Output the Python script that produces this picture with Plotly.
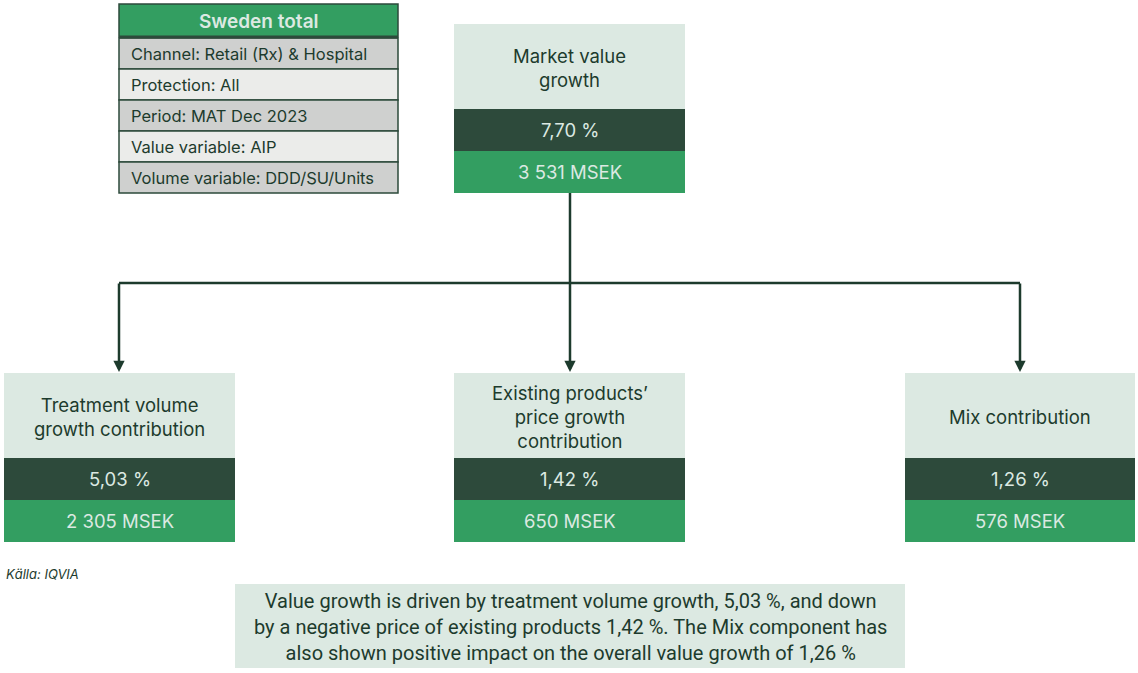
import plotly.graph_objects as go

# data
info_title = "Sweden total"
info_rows = ["Channel: Retail (Rx) & Hospital", "Protection: All", "Period: MAT Dec 2023",
             "Value variable: AIP", "Volume variable: DDD/SU/Units"]
box_titles = ["Market value<br>growth", "Treatment volume<br>growth contribution",
              "Existing products’<br>price growth<br>contribution", "Mix contribution"]
box_pct = ["7,70 %", "5,03 %", "1,42 %", "1,26 %"]
box_msek = ["3 531 MSEK", "2 305 MSEK", "650 MSEK", "576 MSEK"]
source = "Källa: IQVIA"
summary = ("Value growth is driven by treatment volume growth, 5,03 %, and down<br>"
           "by a negative price of existing products 1,42 %. The Mix component has<br>"
           "also shown positive impact on the overall value growth of 1,26 %")

GREEN = "#339e61"
DARK = "#2d4a3b"
LIGHT = "#dce9e2"
INK = "#1d3b2d"
FONT = "Inter, Noto Sans, sans-serif"

W, H = 1138, 673
fig = go.Figure()
shapes = []
ann = []

def rect(x0, y0, x1, y1, fill, line=None, lw=0):
    shapes.append(dict(type="rect", x0=x0, y0=y0, x1=x1, y1=y1, fillcolor=fill,
                       line=dict(color=line or fill, width=lw), layer="below"))

def text(x, y, s, size, color, anchor="center", weight="normal", italic=False, family=FONT):
    ann.append(dict(x=x, y=y, text=s, showarrow=False, xanchor=anchor, yanchor="middle",
                    align=anchor if anchor != "center" else "center",
                    font=dict(family=family, size=size, color=color, weight=weight,
                              style="italic" if italic else "normal")))

# info table
tx0, tx1 = 119, 398
rect(tx0, 4, tx1, 37, GREEN, DARK, 1.5)
text((tx0 + tx1) / 2, 21, info_title, 19, LIGHT, weight=600)
shapes.append(dict(type="line", x0=tx0, x1=tx1, y0=37, y1=37, line=dict(color=DARK, width=3)))
for i, r in enumerate(info_rows):
    y0 = 38 + i * 31
    rect(tx0, y0, tx1, y0 + 31, "#cfd0cf" if i % 2 == 0 else "#ebecea", DARK, 1.5)
    text(tx0 + 10, y0 + 16, r, 16.5, INK, anchor="left")

# boxes
boxes = [(454, 685, 24), (4, 235, 373), (454, 685, 373), (905, 1135, 373)]
for (x0, x1, y0), t, p, m in zip(boxes, box_titles, box_pct, box_msek):
    rect(x0, y0, x1, y0 + 85, LIGHT)
    rect(x0, y0 + 85, x1, y0 + 127, DARK)
    rect(x0, y0 + 127, x1, y0 + 169, GREEN)
    xc = (x0 + x1) / 2
    text(xc, y0 + 44, t, 18.5, INK)
    text(xc, y0 + 106, p, 18.5, LIGHT)
    text(xc, y0 + 148, m, 18.5, LIGHT)

# connectors
shapes.append(dict(type="line", x0=570, x1=570, y0=193, y1=283, line=dict(color=INK, width=2.5)))
shapes.append(dict(type="line", x0=119, x1=1020, y0=283, y1=283, line=dict(color=INK, width=2.5)))
for xa in [119, 570, 1020]:
    ann.append(dict(x=xa, y=372, ax=xa, ay=282, xref="x", yref="y", axref="x", ayref="y",
                    showarrow=True, arrowhead=2, arrowsize=0.9, arrowwidth=2.5,
                    arrowcolor=INK, text=""))

# source
text(4, 574, source, 13, INK, anchor="left", italic=True)

# summary box
rect(235, 584, 905, 668, LIGHT)
text(570, 627, summary, 20, INK, family="Liberation Sans Narrow, Roboto, sans-serif")

fig.update_layout(
    width=W, height=H,
    margin=dict(l=0, r=0, t=0, b=0),
    paper_bgcolor="white", plot_bgcolor="white",
    xaxis=dict(range=[0, W], visible=False, fixedrange=True),
    yaxis=dict(range=[H, 0], visible=False, fixedrange=True),
    shapes=shapes, annotations=ann, showlegend=False,
)

fig.write_html("out.html", config={"displayModeBar": False},
               post_script="document.body.style.margin='0';")
